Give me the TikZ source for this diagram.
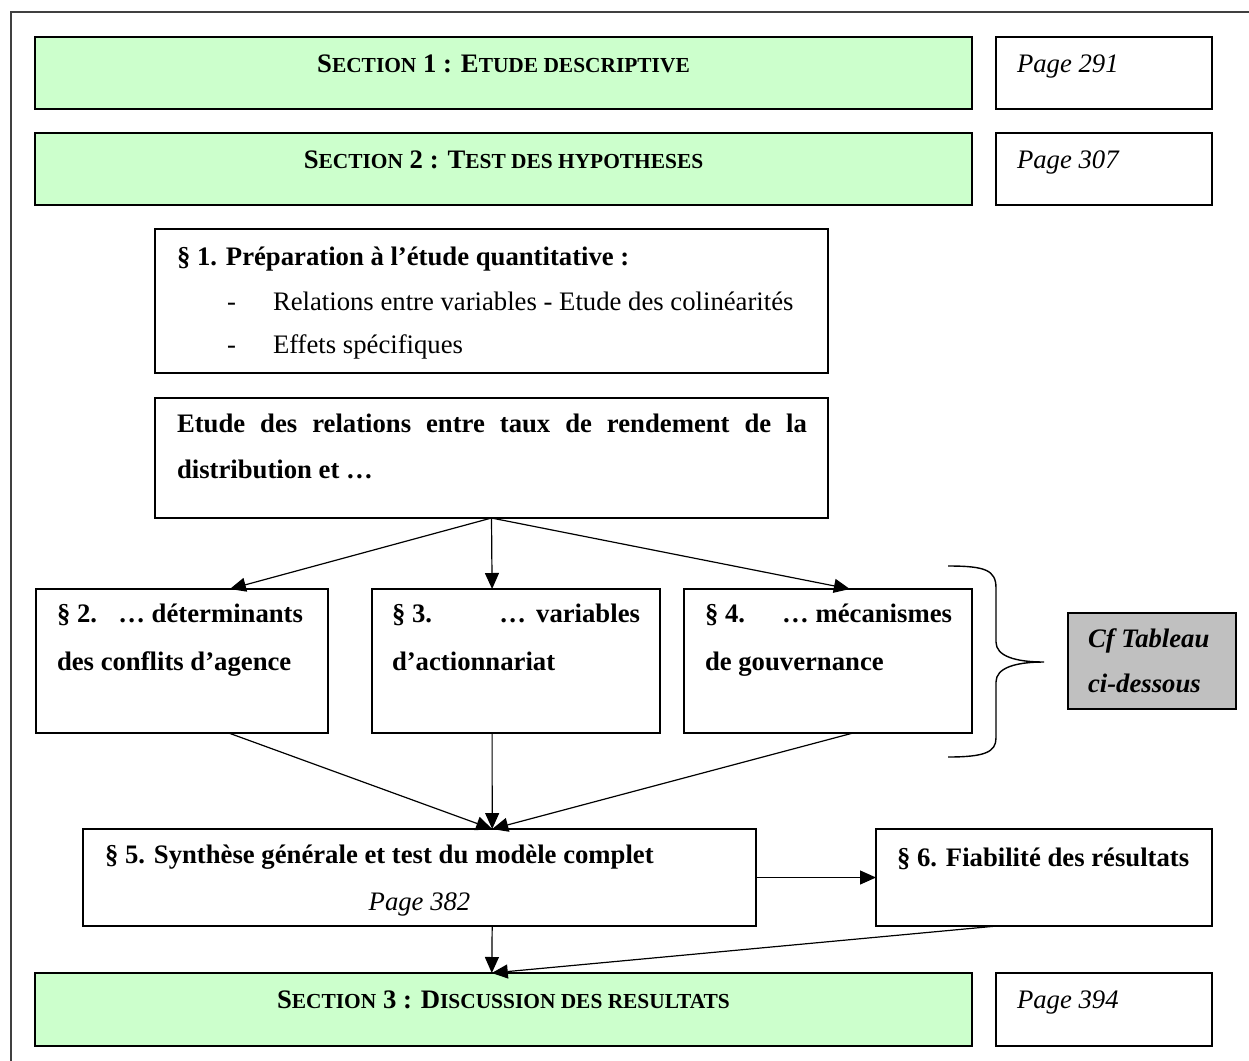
\documentclass[tikz,border=0pt]{standalone}
\usepackage{fontspec}
\setmainfont{Liberation Serif}
\usetikzlibrary{arrows.meta,fit,calc}
\newcommand\smcp[1]{{\fontsize{10.7pt}{12pt}\selectfont #1}}
\definecolor{secgreen}{HTML}{CCFFCC}
\definecolor{cfgray}{HTML}{C0C0C0}
\definecolor{framegray}{HTML}{404040}
\begin{document}
\begin{tikzpicture}[x=0.5pt,y=-0.5pt,
  font=\fontsize{13.35pt}{16pt}\selectfont,
  box/.style={draw=black, line width=0.7pt, inner sep=0pt, outer sep=0pt, rectangle},
  secbox/.style={box, fill=secgreen},
  cfbox/.style={box, fill=cfgray},
  txt/.style={inner sep=0pt, outer sep=0pt, anchor=base west},
  ctxt/.style={inner sep=0pt, outer sep=0pt, anchor=base},
  rtxt/.style={inner sep=0pt, outer sep=0pt, anchor=base east},
  arr/.style={line width=0.6pt, -{Triangle[length=8pt,width=7pt]}},
  brace/.style={line width=0.7pt},
  framel/.style={line width=0.6pt, draw=framegray},
]
\useasboundingbox (0,0) rectangle (1249,1061);
% outer frame
\draw[framel] (11,1061) -- (11,12) -- (1249,12);

% boxes
\node[secbox, fit={(35,37) (972,109)}] (s1) {};
\node[box, fit={(996,37) (1212,109)}] (pg1) {};
\node[secbox, fit={(35,133) (972,205)}] (s2) {};
\node[box, fit={(996,133) (1212,205)}] (pg2) {};
\node[box, fit={(155,229) (828,373)}] (p1) {};
\node[box, fit={(155,398) (828,518)}] (et) {};
\node[box, fit={(36,589) (328,733)}] (p2) {};
\node[box, fit={(372,589) (660,733)}] (p3) {};
\node[box, fit={(684,589) (972,733)}] (p4) {};
\node[cfbox, fit={(1068,613) (1236,709)}] (cf) {};
\node[box, fit={(83,829) (756,926)}] (p5) {};
\node[box, fit={(876,829) (1212,926)}] (p6) {};
\node[secbox, fit={(35,973) (972,1046)}] (s3) {};
\node[box, fit={(996,973) (1212,1046)}] (pg3) {};

% brace
\draw[brace] (948,566) .. controls (985,566) and (996,570) .. (996,588)
  -- (996,642) .. controls (996,656) and (1015,662) .. (1044,662)
  .. controls (1015,662) and (996,668) .. (996,682)
  -- (996,738) .. controls (996,752) and (985,757) .. (948,757);

% texts
\node[ctxt] (t1) at (503.5,72) {\bfseries S\smcp{ECTION} 1 : E\smcp{TUDE DESCRIPTIVE}};
\node[txt] (tpg1) at (1017,72) {\itshape Page 291};
\node[ctxt] (t2) at (503.5,168) {\bfseries S\smcp{ECTION} 2 : T\smcp{EST DES HYPOTHESES}};
\node[txt] (tpg2) at (1017,168) {\itshape Page 307};

\node[txt] (tp1) at (177,265) {\bfseries § 1. Préparation à l’étude quantitative :};
\node[txt] (tp1d1) at (227,310) {-};
\node[txt] (tp1a) at (273,310) {Relations entre variables - Etude des colinéarités};
\node[txt] (tp1d2) at (227,353) {-};
\node[txt] (tp1b) at (273,353) {Effets spécifiques};

\node[txt] (tet1) at (177,432) {\bfseries\makebox[315pt][s]{Etude des relations entre taux de rendement de la}};
\node[txt] (tet2) at (177,478) {\bfseries distribution et …};

\node[txt] (tp2a) at (57,622) {\bfseries § 2.};
\node[rtxt] (tp2b) at (303,622) {\bfseries … déterminants};
\node[txt] (tp2c) at (57,670) {\bfseries des conflits d’agence};

\node[txt] (tp3a) at (392,622) {\bfseries § 3.};
\node[rtxt] (tp3b) at (640,622) {\bfseries …\hspace{5pt}variables};
\node[txt] (tp3c) at (392,670) {\bfseries d’actionnariat};

\node[txt] (tp4a) at (705,622) {\bfseries § 4.};
\node[rtxt] (tp4b) at (952,622) {\bfseries … mécanismes};
\node[txt] (tp4c) at (705,670) {\bfseries de gouvernance};

\node[txt] (tcf1) at (1088,647) {\bfseries\itshape Cf Tableau};
\node[txt] (tcf2) at (1088,692) {\bfseries\itshape ci-dessous};

\node[txt] (tp5) at (105,863) {\bfseries § 5. Synthèse générale et test du modèle complet};
\node[ctxt] (tpg5) at (419.5,910) {\itshape Page 382};
\node[txt] (tp6) at (897,866) {\bfseries § 6. Fiabilité des résultats};

\node[ctxt] (t3) at (503.5,1008) {\bfseries S\smcp{ECTION} 3 : D\smcp{ISCUSSION DES RESULTATS}};
\node[txt] (tpg3) at (1017,1008) {\itshape Page 394};

% connectors
\draw[arr] (et.south) -- ($(p2.north west)!0.664!(p2.north east)$);
\draw[arr] (et.south) -- ($(p3.north west)!0.417!(p3.north east)$);
\draw[arr] (et.south) -- ($(p4.north west)!0.576!(p4.north east)$);
\draw[arr] ($(p2.south west)!0.66!(p2.south east)$) -- ($(p5.north west)!0.608!(p5.north east)$);
\draw[arr] ($(p3.south west)!0.417!(p3.south east)$) -- ($(p5.north west)!0.608!(p5.north east)$);
\draw[arr] ($(p4.south west)!0.587!(p4.south east)$) -- ($(p5.north west)!0.608!(p5.north east)$);
\draw[arr] (p5.east) -- (p6.west);
\draw[arr] ($(p5.south west)!0.608!(p5.south east)$) -- ($(s3.north west)!0.4875!(s3.north east)$);
\draw[arr] ($(p6.south west)!0.36!(p6.south east)$) -- ($(s3.north west)!0.4875!(s3.north east)$);
\end{tikzpicture}
\end{document}
